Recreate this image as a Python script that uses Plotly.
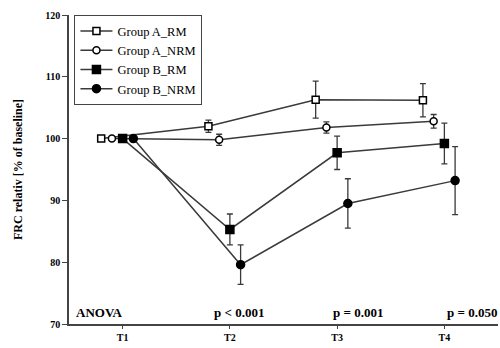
import plotly.graph_objects as go

# Time points and group data (FRC relative to baseline, mean ± error)
timepoints = ["T1", "T2", "T3", "T4"]
groups = ["Group A_RM", "Group A_NRM", "Group B_RM", "Group B_NRM"]

a_rm_mean = [100.0, 102.0, 106.3, 106.2]
a_rm_err = [0.0, 1.0, 3.0, 2.7]
a_nrm_mean = [100.0, 99.8, 101.8, 102.8]
a_nrm_err = [0.0, 0.9, 0.9, 1.1]
b_rm_mean = [100.0, 85.3, 97.7, 99.2]
b_rm_err = [0.0, 2.5, 2.7, 3.3]
b_nrm_mean = [100.0, 79.6, 89.5, 93.2]
b_nrm_err = [0.0, 3.2, 4.0, 5.5]

anova_labels = ["p < 0.001", "p = 0.001", "p = 0.050"]

means = [a_rm_mean, a_nrm_mean, b_rm_mean, b_nrm_mean]
errs = [a_rm_err, a_nrm_err, b_rm_err, b_nrm_err]
symbols = ["square-open", "circle-open", "square", "circle"]
offsets = [-0.2, -0.1, 0.0, 0.1]

FONT = "Liberation Serif"
LINE = "#3a3a3a"

fig = go.Figure()
for name, m, e, sym, off in zip(groups, means, errs, symbols, offsets):
    xs = [i + 1 + off for i in range(len(timepoints))]
    filled = "open" not in sym
    fig.add_trace(go.Scatter(
        x=xs, y=m, name=name, mode="lines+markers",
        line=dict(color=LINE, width=1.5),
        marker=dict(
            symbol=sym.replace("-open", ""),
            size=8 if filled else 7,
            color="black" if filled else "white",
            line=dict(color="black", width=1.5),
        ),
        error_y=dict(type="data", array=e, visible=True,
                     color=LINE, thickness=1.3, width=3),
    ))

annotations = [
    dict(text="<b>ANOVA</b>", x=0.55, y=70.3, xref="x", yref="y",
         xanchor="left", yanchor="bottom", showarrow=False,
         font=dict(family=FONT, size=13, color="black")),
    dict(text="<b>MANOVA: p < 0.001</b>", x=1.0, y=120.3, xref="paper", yref="y",
         xanchor="right", yanchor="top", showarrow=False,
         font=dict(family=FONT, size=13, color="black")),
]
for lab, xpos in zip(anova_labels, [1.83, 2.94, 4.01]):
    annotations.append(dict(
        text=f"<b>{lab}</b>", x=xpos, y=70.3, xref="x", yref="y",
        xanchor="left", yanchor="bottom", showarrow=False,
        font=dict(family=FONT, size=13, color="black")))

fig.update_layout(
    width=500, height=348,
    margin=dict(l=69, r=2, t=15, b=24),
    paper_bgcolor="white", plot_bgcolor="white",
    font=dict(family=FONT, size=10, color="black"),
    showlegend=True,
    legend=dict(
        x=0.012, y=1.0, xanchor="left", yanchor="top",
        bgcolor="white", bordercolor="#444", borderwidth=1.3,
        font=dict(family=FONT, size=12.5, color="black"),
        itemwidth=32, tracegroupgap=0,
    ),
    xaxis=dict(
        range=[0.5, 4.5], tickvals=[1, 2, 3, 4], ticktext=[f"<b>{t}</b>" for t in timepoints],
        showline=True, linecolor="#444", linewidth=1.5,
        ticks="outside", ticklen=3, tickcolor="#444",
        showgrid=False, zeroline=False,
        tickfont=dict(family=FONT, size=10),
    ),
    yaxis=dict(
        range=[70, 120], tickvals=[70, 80, 90, 100, 110, 120],
        ticktext=[f"<b>{v}</b>" for v in [70, 80, 90, 100, 110, 120]],
        showline=True, linecolor="#444", linewidth=1.5,
        ticks="outside", ticklen=5, tickcolor="#444",
        showgrid=False, zeroline=False,
        tickfont=dict(family=FONT, size=10),
        title=dict(text="<b>FRC relativ [% of baseline]</b>", standoff=20,
                   font=dict(family=FONT, size=12)),
    ),
    annotations=annotations,
)

fig.write_html("out.html")
